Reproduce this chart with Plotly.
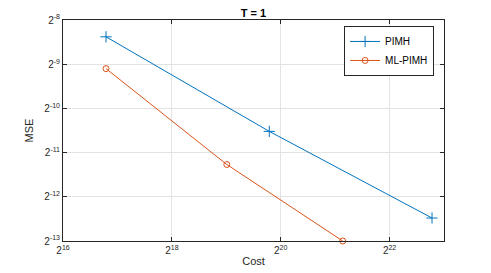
import math
import plotly.graph_objects as go

# Data (values as log2 exponents)
pimh_log2_cost = [16.79, 19.79, 22.78]
pimh_log2_mse = [-8.38, -10.52, -12.48]
ml_log2_cost = [16.79, 19.01, 21.14]
ml_log2_mse = [-9.10, -11.27, -13.0]

x_tick_exp = [16, 18, 20, 22]
y_tick_exp = [-13, -12, -11, -10, -9, -8]

pimh_cost = [2 ** v for v in pimh_log2_cost]
pimh_mse = [2 ** v for v in pimh_log2_mse]
ml_cost = [2 ** v for v in ml_log2_cost]
ml_mse = [2 ** v for v in ml_log2_mse]

L2 = math.log10(2)
font = "Liberation Sans, Arial, Helvetica, sans-serif"

W, H = 483, 265  # page body has an 8px margin
ML, MR, MT, MB = 55, 47, 12, 32

fig = go.Figure()
fig.add_trace(go.Scatter(
    x=pimh_cost, y=pimh_mse, mode="lines+markers", name="PIMH",
    line=dict(color="#0072BD", width=1),
    marker=dict(symbol="cross-thin-open", size=8, color="#0072BD",
                line=dict(color="#0072BD", width=1)),
    cliponaxis=False,
))
fig.add_trace(go.Scatter(
    x=ml_cost, y=ml_mse, mode="lines+markers", name="ML-PIMH",
    line=dict(color="#D95319", width=1),
    marker=dict(symbol="circle-open", size=6, color="#D95319",
                line=dict(color="#D95319", width=1)),
    cliponaxis=False,
))

axis_common = dict(
    showline=True, linecolor="#262626", linewidth=1, mirror="ticks",
    ticks="inside", ticklen=4, tickcolor="#262626",
    showgrid=True, gridcolor="#e3e3e3", gridwidth=1,
    zeroline=False, automargin=False,
    tickfont=dict(family=font, size=10, color="#262626"),
)

fig.update_layout(
    width=W, height=H,
    margin=dict(l=ML, r=MR, t=MT, b=MB, autoexpand=False),
    paper_bgcolor="white", plot_bgcolor="white",
    title=dict(text="<b>T = 1</b>", x=(ML + (W - ML - MR) / 2) / W, xanchor="center",
               y=1 - 5 / H, yanchor="middle",
               font=dict(family=font, size=11, color="#000"), automargin=False),
    xaxis=dict(
        type="log", range=[16 * L2, 23 * L2],
        tickvals=[2 ** e for e in x_tick_exp],
        ticktext=[f"2<sup>{e}</sup>" for e in x_tick_exp],
        title=dict(text="Cost", font=dict(family=font, size=11, color="#262626"), standoff=2),
        **axis_common,
    ),
    yaxis=dict(
        type="log", range=[-13 * L2, -8 * L2],
        tickvals=[2 ** e for e in y_tick_exp],
        ticktext=[f"2<sup>{e}</sup>" for e in y_tick_exp],
        title=dict(text="MSE", font=dict(family=font, size=11, color="#262626"), standoff=8),
        **axis_common,
    ),
    legend=dict(
        x=0.974, y=0.973, xanchor="right", yanchor="top",
        bgcolor="white", bordercolor="#262626", borderwidth=1,
        font=dict(family=font, size=10, color="#000"),
        tracegroupgap=0, itemwidth=30,
    ),
    showlegend=True,
)

fig.write_html("out.html")
